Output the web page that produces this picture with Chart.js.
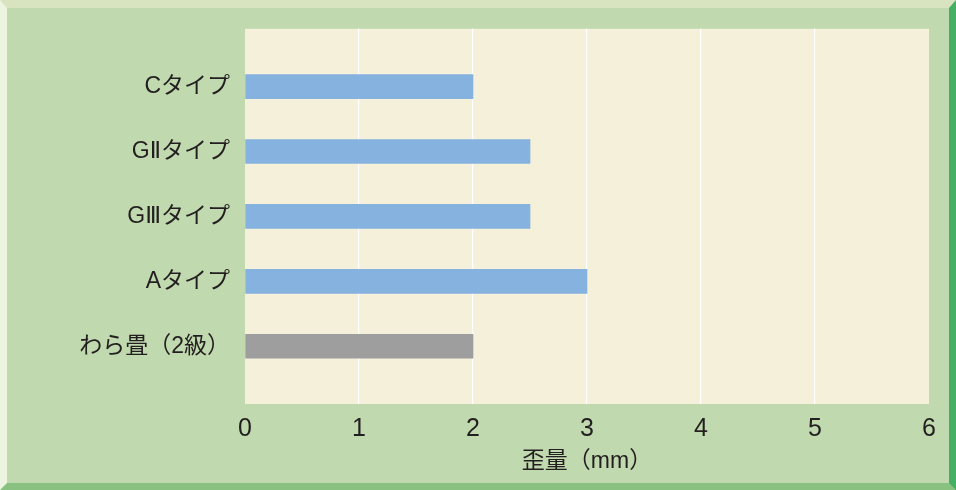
<!DOCTYPE html>
<html lang="ja">
<head>
    <meta charset="UTF-8">
    <title>歪量</title>
    <script src="https://cdn.jsdelivr.net/npm/chart.js"></script>
    <style>
        html, body {
            margin: 0;
            padding: 0;
            background: #c0d9ae;
        }
        #frame {
            box-sizing: border-box;
            width: 956px;
            height: 490px;
            background: #c0d9ae;
            border-top: 8px solid #d8e3c0;
            border-left: 7px solid #edf4e0;
            border-right: 7px solid #45b063;
            border-bottom: 7px solid #89c280;
        }
        #chart {
            position: relative;
            width: 942px;
            height: 475px;
        }
    </style>
</head>
<body>
<div id="frame">
    <div id="chart">
        <canvas id="strainChart"></canvas>
    </div>
</div>

<script>
    const categories = ['Cタイプ', 'GⅡタイプ', 'GⅢタイプ', 'Aタイプ', 'わら畳（2級）'];
    const values = [2, 2.5, 2.5, 3, 2];
    const xTicks = [0, 1, 2, 3, 4, 5, 6];
    const referenceItem = 'わら畳（2級）';

    const fontFamily = "'Liberation Sans', 'DejaVu Sans', 'Noto Sans CJK JP', sans-serif";
    const textColor = '#231f20';

    // cream plot background
    const plotBg = {
        id: 'plotBg',
        beforeDraw(chart) {
            const a = chart.chartArea;
            const c = chart.ctx;
            c.save();
            c.fillStyle = '#f5f0da';
            c.fillRect(a.left, a.top, a.right - a.left, a.bottom - a.top);
            c.restore();
        }
    };

    const ctx = document.getElementById('strainChart').getContext('2d');
    new Chart(ctx, {
        type: 'bar',
        data: {
            datasets: [{
                data: values.map((v, i) => ({ x: v, y: i })),
                backgroundColor: c => categories[c.dataIndex] === referenceItem ? '#9e9e9e' : '#86b2df',
                barThickness: 24,
                borderWidth: 0
            }]
        },
        plugins: [plotBg],
        options: {
            indexAxis: 'y',
            responsive: true,
            maintainAspectRatio: false,
            animation: false,
            layout: { padding: { top: 17, right: 20, left: 0, bottom: 0 } },
            plugins: {
                legend: { display: false },
                tooltip: { enabled: false }
            },
            scales: {
                x: {
                    type: 'linear',
                    min: xTicks[0],
                    max: xTicks[xTicks.length - 1],
                    afterBuildTicks: s => { s.ticks = xTicks.map(v => ({ value: v })); },
                    afterFit: s => { s.height = 79; },
                    grid: {
                        color: c => (c.tick && (c.tick.value === xTicks[0] || c.tick.value === xTicks[xTicks.length - 1])) ? 'rgba(0,0,0,0)' : '#ffffff',
                        lineWidth: 1.2,
                        drawTicks: false
                    },
                    border: { display: false },
                    ticks: {
                        color: textColor,
                        font: { family: fontFamily, size: 25 },
                        padding: 10,
                        maxRotation: 0
                    },
                    title: {
                        display: true,
                        text: '歪量（mm）',
                        color: textColor,
                        font: { family: fontFamily, size: 23 },
                        padding: { top: 0, bottom: 8 }
                    }
                },
                y: {
                    type: 'linear',
                    reverse: true,
                    offset: false,
                    min: -0.89,
                    max: categories.length - 1 + 0.89,
                    afterBuildTicks: s => { s.ticks = categories.map((_, i) => ({ value: i })); },
                    afterFit: s => { s.width = 238; },
                    grid: { display: false },
                    border: { display: false },
                    ticks: {
                        callback: v => categories[v] ?? '',
                        color: textColor,
                        font: { family: fontFamily, size: 23 },
                        padding: 7
                    }
                }
            }
        }
    });
</script>
</body>
</html>
